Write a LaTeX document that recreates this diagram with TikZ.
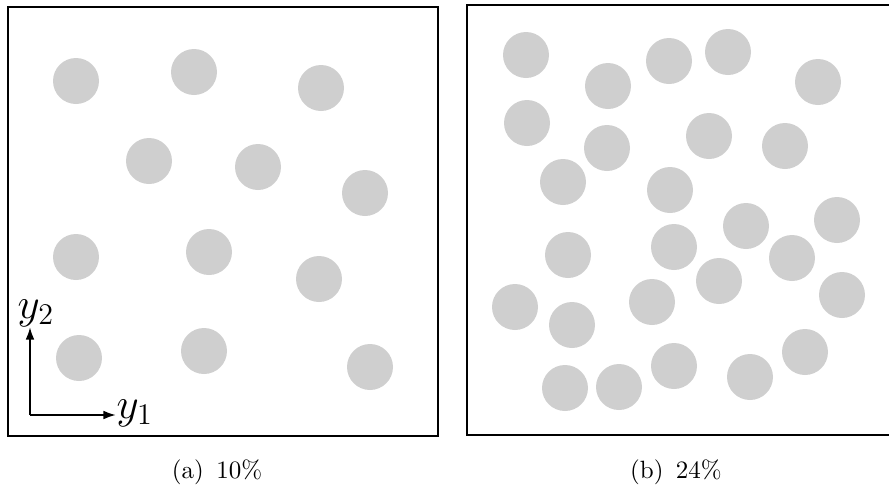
\documentclass[tikz,border=0pt]{standalone}
\usepackage{amsmath}
\usepackage{tikz}
\usetikzlibrary{arrows.meta, positioning}

\definecolor{inclgray}{RGB}{207,207,207}
\tikzset{
  cell/.style={line width=0.8pt},
  incl/.style={fill=inclgray},
  axis/.style={line width=0.8pt, -{Latex[length=5pt,width=3.5pt]}}
}

\begin{document}
\begin{tikzpicture}[x=0.4pt, y=-0.4pt]
            \useasboundingbox (0,0) rectangle (889,487);

            % (a) 10%
            \draw[cell] (8,7) rectangle (438,436);
            \foreach \px/\py in {76/81, 194/72, 321/88, 149/161, 258/167, 365/193,
                                 76/257, 209/252, 319/279, 79/358, 204/351, 370/367}
                \fill[incl] (\px,\py) circle (23);

            \coordinate (o) at (30,415);
            \node[anchor=west, inner sep=0pt, font=\fontsize{17}{19}\selectfont] (ya) at (116,413) {$y_1$};
            \node[anchor=south, inner sep=0pt, font=\fontsize{17}{19}\selectfont] (yb) at (36,327) {$y_2$};
            \draw[axis] (o) -- (o -| ya.west);
            \draw[axis] (o) -- (o |- yb.south);

            % (b) 24%
            \draw[cell] (889,5) -- (467,5) -- (467,435) -- (889,435);
            \foreach \px/\py in {526/55, 608/86, 669/61, 728/52, 818/82,
                                 527/123, 607/148, 709/136, 785/146,
                                 563/182, 670/190, 746/226, 837/220,
                                 568/255, 674/247, 792/258, 719/281, 842/295,
                                 515/307, 572/325, 652/302, 805/352,
                                 674/366, 750/377, 565/388, 619/387}
                \fill[incl] (\px,\py) circle (23);

            \node (capa) at (217,472) {(a)~\,10\%};
            \node (capb) at (676,472) {(b)~\,24\%};

        \end{tikzpicture}
\end{document}
